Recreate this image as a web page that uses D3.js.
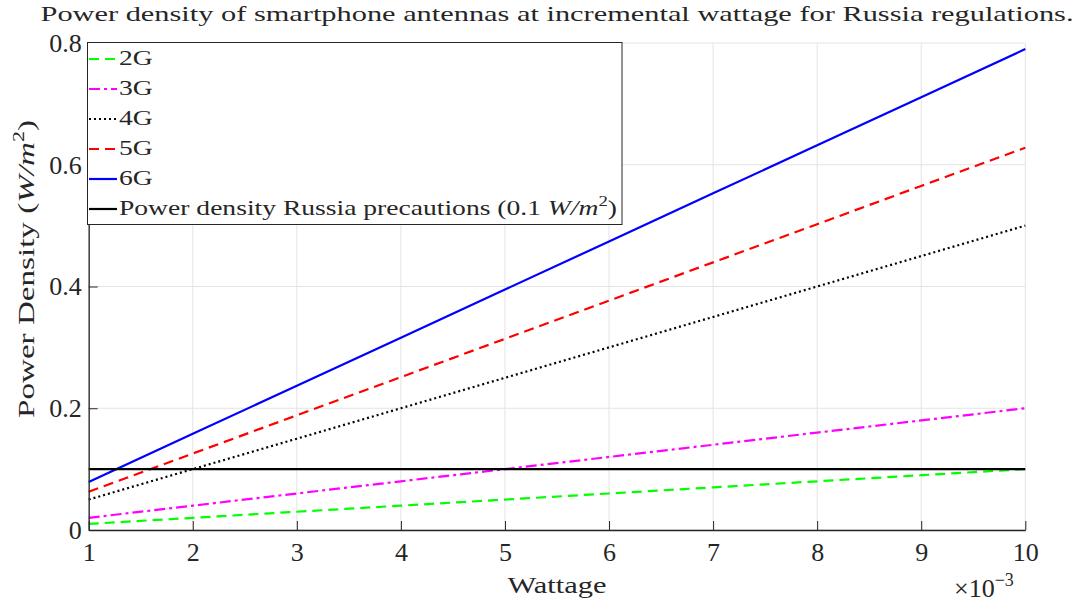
<!DOCTYPE html>
<html><head><meta charset="utf-8">
<script src="https://cdn.jsdelivr.net/npm/d3@7"></script>
<style>body{margin:0;background:#fff}svg{display:block}text{font-family:"Liberation Serif","DejaVu Serif",serif;fill:#262626}</style>
</head><body>
<svg id="c" width="1079" height="603"></svg>
<script>
const wattage = [1,2,3,4,5,6,7,8,9,10];
const density2G = [0.01,0.02,0.03,0.04,0.05,0.06,0.07,0.08,0.09,0.10];
const density3G = [0.02,0.04,0.06,0.08,0.10,0.12,0.14,0.16,0.18,0.20];
const density4G = [0.05,0.10,0.15,0.20,0.25,0.30,0.35,0.40,0.45,0.50];
const density5G = [0.0628,0.1256,0.1884,0.2512,0.314,0.3768,0.4396,0.5024,0.5652,0.628];
const density6G = [0.079,0.158,0.237,0.316,0.395,0.474,0.553,0.632,0.711,0.79];
const russiaLimit = [0.1,0.1,0.1,0.1,0.1,0.1,0.1,0.1,0.1,0.1];
const xTicks = [1,2,3,4,5,6,7,8,9,10];
const yTicks = [0,0.2,0.4,0.6,0.8];
const seriesNames = ["2G","3G","4G","5G","6G","Power density Russia precautions"];

const series = [
  {name:seriesNames[0], values:density2G, color:"#00ff00", dash:"10,6"},
  {name:seriesNames[1], values:density3G, color:"#ff00ff", dash:"11,4,3,4"},
  {name:seriesNames[2], values:density4G, color:"#000000", dash:"2,3"},
  {name:seriesNames[3], values:density5G, color:"#ff0000", dash:"10,6"},
  {name:seriesNames[4], values:density6G, color:"#0000ff", dash:null},
  {name:seriesNames[5], values:russiaLimit, color:"#000000", dash:null}
];

const svg = d3.select("#c");
const L=88.7, R=1025.3, T=43, B=530;
const x = d3.scaleLinear().domain([1,10]).range([L,R]);
const y = d3.scaleLinear().domain([0,0.8]).range([B,T]);

// grid
const g = svg.append("g");
g.selectAll(".gx").data(xTicks).join("line")
  .attr("x1",d=>x(d)).attr("x2",d=>x(d)).attr("y1",T).attr("y2",B)
  .attr("stroke","#e3e3e3").attr("stroke-width",1);
g.selectAll(".gy").data(yTicks).join("line")
  .attr("x1",L).attr("x2",R).attr("y1",d=>y(d)).attr("y2",d=>y(d))
  .attr("stroke","#e3e3e3").attr("stroke-width",1);

// lines
const line = d3.line().x((d,i)=>x(wattage[i])).y(d=>y(d));
svg.append("g").selectAll("path").data(series).join("path")
  .attr("d",d=>line(d.values)).attr("fill","none")
  .attr("stroke",d=>d.color).attr("stroke-width",2.2)
  .attr("stroke-dasharray",d=>d.dash);

// axes
const xAxis = d3.axisBottom(x).tickValues(xTicks).tickSizeInner(-9).tickSizeOuter(0).tickPadding(13).tickFormat(d3.format("d"));
const yAxis = d3.axisLeft(y).tickValues(yTicks).tickSizeInner(-9).tickSizeOuter(0).tickPadding(7).tickFormat(d=>d===0?"0":d3.format(".1f")(d));
const gx = svg.append("g").attr("transform",`translate(0,${B})`).call(xAxis);
const gy = svg.append("g").attr("transform",`translate(${L},0)`).call(yAxis);
[gx,gy].forEach(a=>{
  a.select(".domain").attr("stroke","#262626").attr("stroke-width",1.3);
  a.selectAll(".tick line").attr("stroke","#262626").attr("stroke-width",1);
  a.selectAll(".tick text").attr("font-size",26).attr("fill","#262626").style("font-family",'"Liberation Serif",serif');
});
gx.selectAll(".tick text").attr("dy","0.71em");

// labels
svg.append("text").attr("x",557).attr("y",593).attr("text-anchor","middle").attr("font-size",24)
  .attr("textLength",99).attr("lengthAdjust","spacingAndGlyphs").text("Wattage");
const yl = svg.append("text").attr("transform","translate(34,269) rotate(-90)").attr("text-anchor","middle").attr("font-size",24)
  .attr("textLength",298).attr("lengthAdjust","spacingAndGlyphs");
yl.append("tspan").text("Power Density (");
yl.append("tspan").attr("font-style","italic").text("W/m");
yl.append("tspan").attr("font-size",16).attr("dy",-10).text("2");
yl.append("tspan").attr("dy",10).text(")");

const ex = svg.append("text").attr("x",954).attr("y",597).attr("font-size",26);
ex.append("tspan").text("×10");
ex.append("tspan").attr("font-size",18).attr("dy",-11).text("−3");

svg.append("text").attr("x",557).attr("y",21).attr("text-anchor","middle").attr("font-size",22)
  .attr("textLength",1033).attr("lengthAdjust","spacingAndGlyphs")
  .text("Power density of smartphone antennas at incremental wattage for Russia regulations.");

// legend
const lg = svg.append("g");
lg.append("rect").attr("x",87.5).attr("y",42.5).attr("width",534.5).attr("height",182)
  .attr("fill","#fff").attr("stroke","#262626").attr("stroke-width",1);
const rows = lg.selectAll(".row").data(series).join("g").attr("transform",(d,i)=>`translate(0,${65+i*30})`);
rows.append("line").attr("x1",89).attr("x2",117).attr("y1",-6).attr("y2",-6)
  .attr("stroke",d=>d.color).attr("stroke-width",2.2).attr("stroke-dasharray",d=>d.dash);
const texts = [];
rows.each(function(d,i){
  const t = d3.select(this).append("text").attr("x",119).attr("y",0).attr("font-size",22).attr("fill","#000");
  t.append("tspan").text(d.name);
  if(i===5){
    t.append("tspan").text(" (0.1 ");
    t.append("tspan").attr("font-style","italic").text("W/m");
    t.append("tspan").attr("font-size",15).attr("dy",-9).text("2");
    t.append("tspan").attr("dy",9).text(")");
  }
  texts.push(t);
});
const last = texts[texts.length-1];
const k = 498/last.node().getComputedTextLength();
texts.forEach(t=>{
  const w = t.node().getComputedTextLength();
  t.attr("textLength",w*k).attr("lengthAdjust","spacingAndGlyphs");
});
</script>
</body></html>
